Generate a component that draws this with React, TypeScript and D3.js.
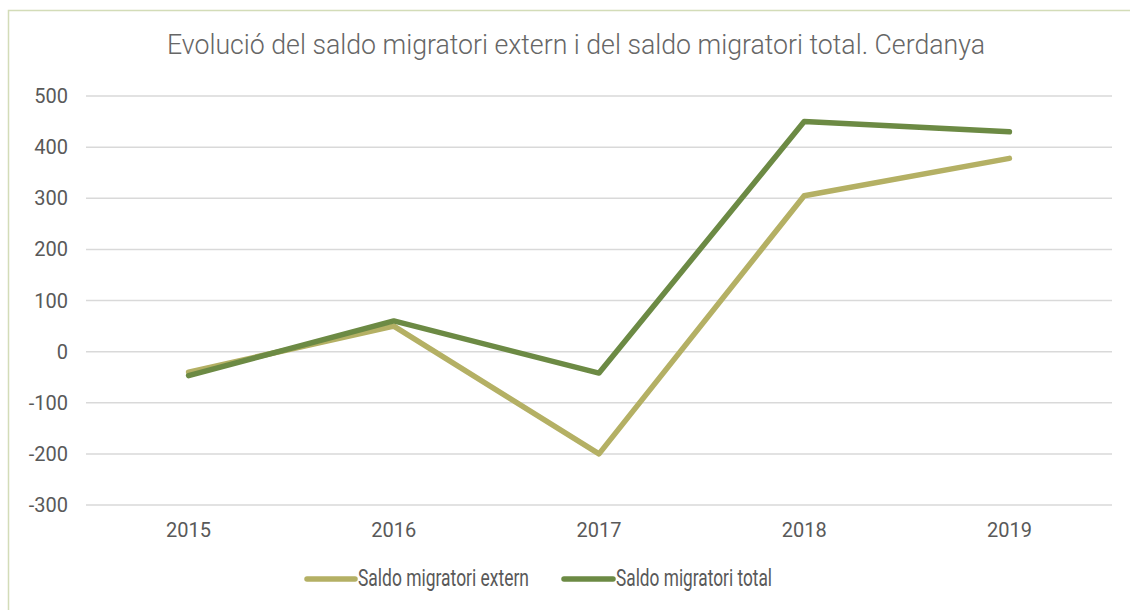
import React from "react";
import * as d3 from "d3";

const years = ["2015", "2016", "2017", "2018", "2019"];
const externValues = [-40, 50, -200, 305, 378];
const totalValues = [-47, 60, -42, 450, 430];
const yTicks = [-300, -200, -100, 0, 100, 200, 300, 400, 500];
const seriesNames = ["Saldo migratori extern", "Saldo migratori total"];
const title = "Evolució del saldo migratori extern i del saldo migratori total. Cerdanya";

const W = 1130;
const H = 610;
const left = 86;
const right = 1112;
const top = 96;
const bottom = 505;
const colors = ["#B4B064", "#6C8A44"];

export default function App() {
  const x = d3.scaleBand<string>().domain(years).range([left, right]);
  const y = d3.scaleLinear().domain([-300, 500]).range([bottom, top]);
  const line = d3
    .line<number>()
    .x((_, i) => (x(years[i]) as number) + x.bandwidth() / 2)
    .y((d) => y(d));
  const font = "Roboto, 'Open Sans', sans-serif";
  const series = [externValues, totalValues];
  const legend = [
    { x1: 307, x2: 355, tx: 358, tl: 171 },
    { x1: 564, x2: 613, tx: 616, tl: 156 },
  ];
  return (
    <svg
      width={W}
      height={H}
      style={{ position: "absolute", left: 0, top: 0, background: "#fff" }}
    >
      <rect x={8.5} y={10.5} width={W + 10} height={H + 10} fill="#fff" stroke="#D3DCB8" strokeWidth={1.5} />
      <text
        x={576}
        y={54}
        textAnchor="middle"
        fontFamily={font}
        fontWeight={300}
        fontSize={28}
        fill="#666"
        textLength={818}
        lengthAdjust="spacingAndGlyphs"
      >
        {title}
      </text>
      {yTicks.map((t) => (
        <g key={t}>
          <line x1={left} x2={right} y1={y(t)} y2={y(t)} stroke="#D9D9D9" strokeWidth={1.5} />
          <text x={68} y={y(t) + 7} textAnchor="end" fontFamily={font} fontSize={20} fill="#595959">
            {t}
          </text>
        </g>
      ))}
      {years.map((yr) => (
        <text
          key={yr}
          x={(x(yr) as number) + x.bandwidth() / 2}
          y={537}
          textAnchor="middle"
          fontFamily={font}
          fontSize={20}
          fill="#595959"
        >
          {yr}
        </text>
      ))}
      {series.map((s, i) => (
        <path
          key={i}
          d={line(s) as string}
          fill="none"
          stroke={colors[i]}
          strokeWidth={5.5}
          strokeLinecap="round"
          strokeLinejoin="round"
        />
      ))}
      {legend.map((l, i) => (
        <g key={i}>
          <line x1={l.x1} x2={l.x2} y1={579} y2={579} stroke={colors[i]} strokeWidth={5.5} strokeLinecap="round" />
          <text
            x={l.tx}
            y={586}
            fontFamily={font}
            fontSize={23}
            fill="#595959"
            textLength={l.tl}
            lengthAdjust="spacingAndGlyphs"
          >
            {seriesNames[i]}
          </text>
        </g>
      ))}
    </svg>
  );
}
